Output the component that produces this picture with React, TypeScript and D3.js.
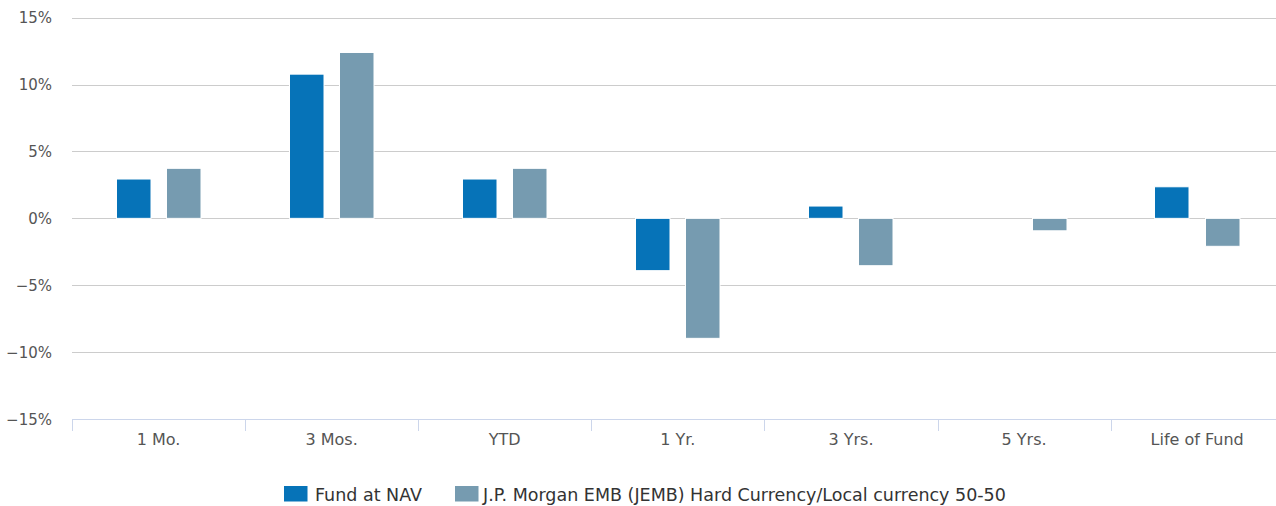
import React from "react";
import * as d3 from "d3";

const categories = ["1 Mo.", "3 Mos.", "YTD", "1 Yr.", "3 Yrs.", "5 Yrs.", "Life of Fund"];
const seriesNames = ["Fund at NAV", "J.P. Morgan EMB (JEMB) Hard Currency/Local currency 50-50"];
const fundValues: (number | null)[] = [2.94, 10.78, 2.94, -3.91, 0.92, null, 2.36];
const benchValues: (number | null)[] = [3.74, 12.4, 3.74, -8.97, -3.54, -0.93, -2.09];
const yTicks = [-15, -10, -5, 0, 5, 10, 15];
const colors = ["#0673b8", "#769bb0"];

const W = 1276;
const H = 506;
const left = 72;
const right = 72 + 7 * 173.1;
const top = 17.7;
const bottom = 419;
const font = "'DejaVu Sans', Verdana, sans-serif";

export default function App() {
  const x0 = d3.scaleBand<string>().domain(categories).range([left, right]);
  const x1 = d3
    .scaleBand<string>()
    .domain(seriesNames)
    .range([0, x0.bandwidth()])
    .paddingInner(0.336)
    .paddingOuter(0.882);
  const y = d3.scaleLinear().domain([-15, 15]).range([bottom, top]);
  const series = [fundValues, benchValues];
  const boundaries = categories.map((c) => x0(c)!).concat([right]);

  return (
    <svg width={W} height={H} style={{ position: "absolute", left: 0, top: 0, background: "#fff" }}>
      {yTicks.filter((t) => t !== -15).map((t) => (
        <line key={t} x1={left} x2={right} y1={Math.round(y(t)) + 0.5} y2={Math.round(y(t)) + 0.5} stroke="#cccccc" strokeWidth={1} />
      ))}
      {yTicks.map((t) => (
        <text key={"l" + t} x={52} y={y(t) + 5.6} textAnchor="end" fontFamily={font} fontSize={15} fill="#555">
          {t < 0 ? "\u2212" + Math.abs(t) + "%" : t + "%"}
        </text>
      ))}
      {series.map((vals, si) =>
        vals.map((v, i) => {
          if (v === null) return null;
          const xx = x0(categories[i])! + x1(seriesNames[si])!;
          const y0 = y(0);
          const yv = y(v);
          return (
            <rect
              key={si + "-" + i}
              x={Math.round(xx) - 0.5}
              y={Math.min(y0, yv)}
              width={Math.round(x1.bandwidth()) + 0.5}
              height={Math.abs(yv - y0)}
              fill={colors[si]}
              stroke="#fff"
              strokeWidth={1}
            />
          );
        })
      )}
      <line x1={left} x2={right} y1={419.5} y2={419.5} stroke="#ccd6eb" strokeWidth={1} />
      {boundaries.map((b, i) => (
        <line key={"t" + i} x1={Math.round(b) + 0.5} x2={Math.round(b) + 0.5} y1={419} y2={431} stroke="#ccd6eb" strokeWidth={1} />
      ))}
      {categories.map((c) => (
        <text key={"c" + c} x={x0(c)! + x0.bandwidth() / 2} y={445} textAnchor="middle" fontFamily={font} fontSize={16} fill="#555">
          {c}
        </text>
      ))}
      <g>
        <rect x={284} y={486} width={23.5} height={15.5} fill={colors[0]} />
        <text x={315} y={501} fontFamily={font} fontSize={17.5} fill="#333">{seriesNames[0]}</text>
        <rect x={455} y={486} width={23.5} height={15.5} fill={colors[1]} />
        <text x={483} y={501} fontFamily={font} fontSize={17.5} fill="#333">{seriesNames[1]}</text>
      </g>
    </svg>
  );
}
